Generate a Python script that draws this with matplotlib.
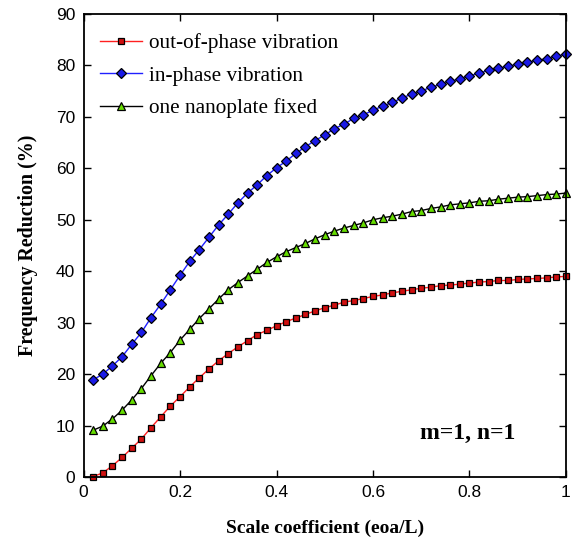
import numpy as np
import matplotlib
matplotlib.use("Agg")
import matplotlib.pyplot as plt

x = [round(0.02 * i, 2) for i in range(1, 51)]

out_of_phase = [0.1, 0.8, 2.2, 3.8, 5.6, 7.4, 9.6, 11.7, 13.8, 15.6,
                17.5, 19.3, 21.0, 22.6, 24.0, 25.3, 26.5, 27.7, 28.5, 29.4,
                30.2, 30.9, 31.6, 32.3, 32.9, 33.4, 34.0, 34.3, 34.7, 35.1,
                35.4, 35.8, 36.1, 36.4, 36.7, 36.9, 37.2, 37.3, 37.5, 37.7,
                37.9, 38.0, 38.2, 38.2, 38.4, 38.5, 38.6, 38.7, 38.9, 39.0]

in_phase = [18.9, 20.0, 21.6, 23.4, 25.8, 28.1, 31.0, 33.6, 36.4, 39.2,
            41.9, 44.2, 46.6, 49.0, 51.1, 53.3, 55.2, 56.8, 58.6, 60.1,
            61.4, 62.9, 64.2, 65.4, 66.5, 67.7, 68.6, 69.7, 70.4, 71.3,
            72.1, 72.8, 73.7, 74.4, 75.0, 75.8, 76.3, 76.9, 77.4, 78.0,
            78.5, 79.1, 79.5, 79.8, 80.3, 80.6, 81.0, 81.3, 81.8, 82.2]

one_fixed = [9.1, 9.9, 11.3, 13.0, 15.0, 17.2, 19.7, 22.1, 24.2, 26.6,
             28.7, 30.8, 32.7, 34.6, 36.4, 37.8, 39.1, 40.4, 41.7, 42.8,
             43.8, 44.6, 45.4, 46.3, 47.1, 47.8, 48.4, 48.9, 49.4, 50.0,
             50.4, 50.7, 51.1, 51.6, 51.8, 52.2, 52.5, 52.9, 53.1, 53.3,
             53.6, 53.7, 54.0, 54.2, 54.4, 54.5, 54.7, 54.9, 55.0, 55.2]

labels = ["out-of-phase vibration", "in-phase vibration", "one nanoplate fixed"]
xticks = [0, 0.2, 0.4, 0.6, 0.8, 1]
xticklabels = ["0", "0.2", "0.4", "0.6", "0.8", "1"]
yticks = list(range(0, 100, 10))

serif = ["Liberation Serif", "DejaVu Serif"]
sans = ["Liberation Sans", "DejaVu Sans"]

fig = plt.figure(figsize=(5.72, 5.39), dpi=100)
ax = fig.add_axes([0.146, 0.115, 0.8435, 0.859])

ax.plot(x, out_of_phase, color="#ff2020", lw=1.0, marker="s", ms=5,
        mfc="#d01010", mec="black", mew=0.9, label=labels[0], clip_on=False)
ax.plot(x, in_phase, color="#2020ff", lw=1.0, marker="D", ms=5,
        mfc="#1a1ae6", mec="black", mew=0.9, label=labels[1], clip_on=False)
ax.plot(x, one_fixed, color="black", lw=1.0, marker="^", ms=6,
        mfc="#66dd00", mec="black", mew=0.9, label=labels[2], clip_on=False)

ax.set_xlim(0, 1)
ax.set_ylim(0, 90)
ax.set_xticks(xticks)
ax.set_xticklabels(xticklabels, fontfamily=sans, fontsize=12.5)
ax.set_yticks(yticks)
ax.set_yticklabels([str(v) for v in yticks], fontfamily=sans, fontsize=12.5)
ax.tick_params(direction="in", top=True, right=True, length=5, width=1, pad=6)
for s in ax.spines.values():
    s.set_linewidth(1.3)

ax.set_xlabel("Scale coefficient (eoa/L)", fontfamily=serif, fontweight="bold",
              fontsize=14, labelpad=14)
ax.set_ylabel("Frequency Reduction (%)", fontfamily=serif, fontweight="bold",
              fontsize=14.4, labelpad=13)

ax.text(0.797, 8.5, "m=1, n=1", fontfamily=serif, fontweight="bold",
        fontsize=17, ha="center", va="center")

leg = ax.legend(loc="upper left", frameon=False, prop={"family": serif, "size": 15.3},
                handlelength=2.0, handletextpad=0.3, labelspacing=0.6,
                borderaxespad=0.5, bbox_to_anchor=(-0.006, 1.0))

fig.savefig("out.png", dpi=100)
